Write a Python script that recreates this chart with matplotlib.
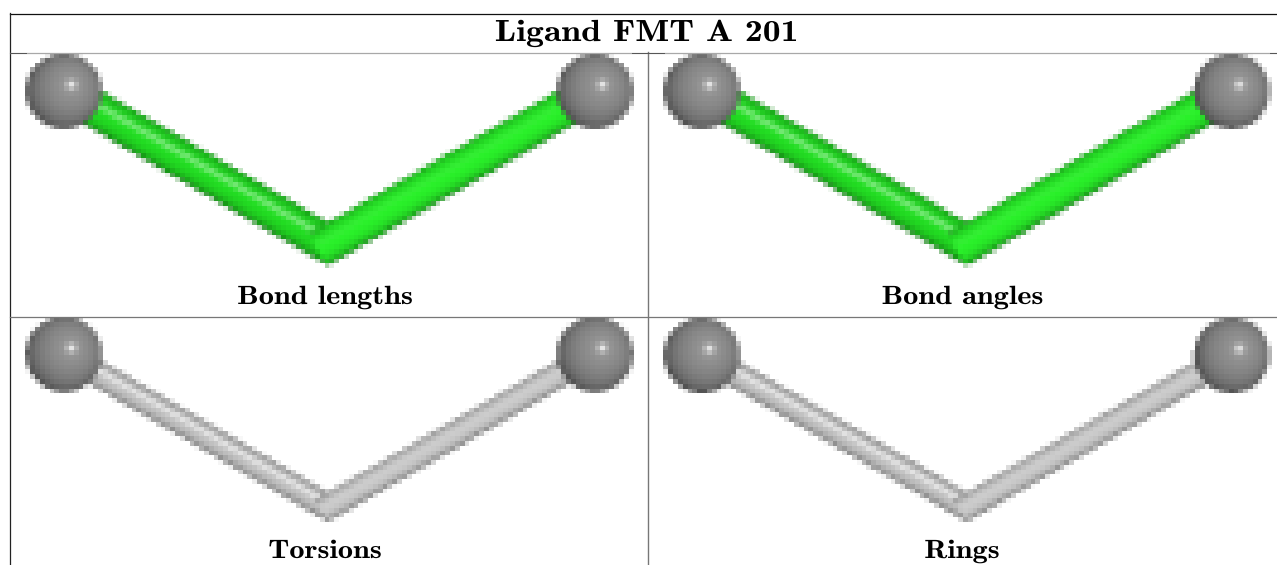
import numpy as np
import matplotlib
matplotlib.use("Agg")
import matplotlib.pyplot as plt
from matplotlib.patheffects import AbstractPathEffect
from matplotlib.transforms import Affine2D

TITLE = "Ligand FMT A 201"
PANEL_NAMES = ["Bond lengths", "Bond angles", "Torsions", "Rings"]
PANEL_BOXES = [(11, 648, 53, 316), (649, 1277, 53, 316), (11, 648, 317, 565), (649, 1277, 317, 565)]
LEFT_ATOMS = [(64, 91), (702, 91), (64, 354), (702, 355)]
MID_ATOMS = [(328, 244), (967, 244), (328, 507), (967, 507)]
RIGHT_ATOMS = [(595, 91), (1232, 91), (595, 354), (1232, 355)]
BOND_RGB = [(0.13, 0.84, 0.13), (0.13, 0.84, 0.13), (0.74, 0.74, 0.74), (0.74, 0.74, 0.74)]
BOND_HALF = [19, 19, 13, 13]
SPHERE_R = 38
BLOCK = 4.8
SS = 4


class StretchX(AbstractPathEffect):
    """Widen a text horizontally about its centre (bold-extended look)."""
    def __init__(self, factor, cx):
        super().__init__()
        self.factor, self.cx = factor, cx

    def draw_path(self, renderer, gc, tpath, affine, rgbFace=None):
        extra = Affine2D().translate(-self.cx, 0).scale(self.factor, 1).translate(self.cx, 0)
        renderer.draw_path(gc, tpath, affine + extra, rgbFace)


def bond_layer(X, Y, a, b, hw, rgb, highlight):
    a, b = np.array(a, float), np.array(b, float)
    d = b - a
    L = np.hypot(*d)
    u = d / L
    n = np.array([u[1], -u[0]])
    if n[1] > 0:
        n = -n
    s = (X - a[0]) * u[0] + (Y - a[1]) * u[1]
    t = ((X - a[0]) * n[0] + (Y - a[1]) * n[1]) / hw   # +1 = upper edge
    mask = (np.abs(t) <= 1) & (s >= 0) & (s <= L + hw * 0.62)
    nz = np.sqrt(np.clip(1 - t ** 2, 0, 1))
    shade = 0.42 + 0.62 * nz ** 0.8 + 0.1 * np.clip(t, -1, 1) * (1 - nz)
    col = np.stack([np.array(rgb)[i] * shade for i in range(3)], -1)
    spec = highlight * np.exp(-((t - 0.25) / 0.17) ** 2)
    col = col + spec[..., None] * (1 - col)
    return col, mask


def sphere_layer(X, Y, c, r):
    dx, dy = (X - c[0]) / r, (Y - c[1]) / r
    rr = dx ** 2 + dy ** 2
    mask = rr <= 1
    nz = np.sqrt(np.clip(1 - rr, 0, 1))
    diff = np.clip(0.19 * dx - 0.16 * dy + 0.97 * nz, 0, 1)
    g = 0.27 + 0.30 * diff ** 0.8
    d2 = (dx - 0.19) ** 2 + (dy + 0.16) ** 2
    g = g + 0.34 * np.exp(-d2 / 0.11 ** 2) + 0.05 * np.exp(-d2 / 0.24 ** 2)
    return np.repeat(g[..., None], 3, -1), mask


def render(box, la, ma, ra, rgb, hw):
    x0, x1, y0, y1 = box
    nx, ny = int((x1 - x0) / BLOCK), int(np.ceil((y1 - y0) / BLOCK))
    xs = x0 + (np.arange(nx * SS) + 0.5) * (x1 - x0) / (nx * SS)
    ys = y0 + (np.arange(ny * SS) + 0.5) * (y1 - y0) / (ny * SS)
    X, Y = np.meshgrid(xs, ys)
    img = np.ones(X.shape + (3,))
    grey = rgb[0] == rgb[1]
    col, m = bond_layer(X, Y, la, ma, hw, rgb, 0.42 if not grey else 0.72)
    img[m] = col[m]
    right_rgb = [v * 1.03 for v in rgb] if grey else [min(1, v * 1.08) if v > 0.5 else v * 1.2 for v in rgb]
    col, m = bond_layer(X, Y, ra, ma, hw, right_rgb, 0.06 if not grey else 0.12)
    img[m] = col[m]
    for c in (la, ra):
        col, m = sphere_layer(X, Y, c, SPHERE_R)
        img[m] = col[m]
    img = np.clip(img, 0, 1)
    return img.reshape(ny, SS, nx, SS, 3).mean(axis=(1, 3))


fig = plt.figure(figsize=(12.77, 5.65), dpi=100)
ax = fig.add_axes([0, 0, 1, 1])
ax.set_axis_off()

for box, la, ma, ra, rgb, hw in zip(PANEL_BOXES, LEFT_ATOMS, MID_ATOMS, RIGHT_ATOMS, BOND_RGB, BOND_HALF):
    ax.imshow(render(box, la, ma, ra, rgb, hw), extent=(box[0], box[1], box[3], box[2]),
              interpolation="nearest", aspect="auto", zorder=1)
ax.set_xlim(0, 1277)
ax.set_ylim(565, 0)

ax.plot([10, 1277], [13.5, 13.5], color="#111111", lw=0.9, zorder=3)
ax.plot([10, 10], [13, 565], color="#222222", lw=0.9, zorder=3)
ax.plot([10, 1277], [52.5, 52.5], color="#a8a8a8", lw=0.9, zorder=3)
ax.plot([648, 648], [52, 564.5], color="#777777", lw=1.0, zorder=3)
ax.plot([10, 1277], [316.5, 316.5], color="#777777", lw=0.9, zorder=3)
for xa, xb in [(10, 26), (632, 664), (1270, 1277)]:
    ax.plot([xa, xb], [53.2, 53.2], color="#555555", lw=0.7, zorder=3)
ax.plot([632, 664], [317.2, 317.2], color="#777777", lw=0.7, zorder=3)

FONT = ["cmb10", "DejaVu Serif"]
ax.text(646.5, 41, TITLE, ha="center", va="baseline", fontsize=22, family=FONT, color="black", zorder=4,
        path_effects=[StretchX(1.17, 646.5)])
for name, xc, yb in zip(PANEL_NAMES, [325, 962.5, 325, 962], [304, 304, 558, 558]):
    ax.text(xc, yb, name, ha="center", va="baseline", fontsize=19, family=FONT, color="black", zorder=4,
            path_effects=[StretchX(1.15, xc)])

fig.savefig("out.png", dpi=100)
